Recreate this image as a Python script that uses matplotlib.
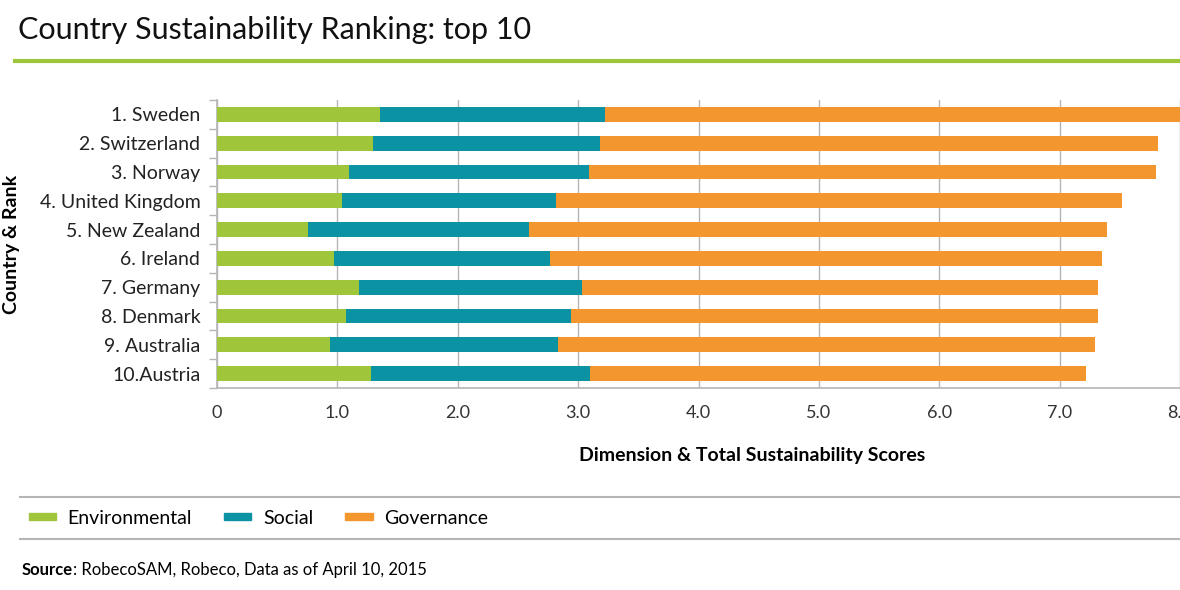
import matplotlib
matplotlib.use('Agg')
import matplotlib.pyplot as plt
import numpy as np
from matplotlib.patches import Patch
from matplotlib.lines import Line2D

# 数据
countries = ['1. Sweden', '2. Switzerland', '3. Norway', '4. United Kingdom',
             '5. New Zealand', '6. Ireland', '7. Germany', '8. Denmark',
             '9. Australia', '10.Austria']
environmental = [1.35, 1.30, 1.10, 1.04, 0.76, 0.97, 1.18, 1.07, 0.94, 1.28]
social = [1.87, 1.88, 1.99, 1.78, 1.83, 1.80, 1.85, 1.87, 1.89, 1.82]
governance = [4.80, 4.64, 4.71, 4.70, 4.80, 4.58, 4.29, 4.38, 4.46, 4.12]
xticks = [0, 1, 2, 3, 4, 5, 6, 7, 8]
xtick_labels = ['0', '1.0', '2.0', '3.0', '4.0', '5.0', '6.0', '7.0', '8.0']

GREEN = '#9fc63b'
TEAL = '#0b93a3'
ORANGE = '#f4962e'
GRAY = '#b5b5b5'

plt.rcParams['font.family'] = ['Lato', 'DejaVu Sans']

fig = plt.figure(figsize=(11.8, 5.9), dpi=100)
W, H = 1180, 590
ax = fig.add_axes([217 / W, 1 - 388 / H, 1 - 217 / W, (388 - 100) / H])

y = np.arange(len(countries))
env = np.array(environmental)
soc = np.array(social)
gov = np.array(governance)
h = 0.52
ax.barh(y, env, height=h, color=GREEN, zorder=3)
ax.barh(y, soc, left=env, height=h, color=TEAL, zorder=3)
ax.barh(y, gov, left=env + soc, height=h, color=ORANGE, zorder=3)

ax.set_xlim(0, 8)
ax.set_ylim(len(countries) - 0.5, -0.5)
ax.set_xticks(xticks)
ax.set_xticklabels(xtick_labels, fontsize=13, color='#333333')
ax.set_yticks(y)
ax.set_yticklabels(countries, fontsize=14, color='#222222')
ax.tick_params(axis='y', length=0, pad=12)
ax.tick_params(axis='x', length=0, pad=12)
# 类别边界处的小刻度
ax.set_yticks(np.arange(-0.5, len(countries), 1), minor=True)
ax.tick_params(axis='y', which='minor', length=6, color=GRAY, width=1)
ax.xaxis.grid(True, color=GRAY, linewidth=1, zorder=0)
for s in ['top', 'right']:
    ax.spines[s].set_visible(False)
for s in ['left', 'bottom']:
    ax.spines[s].set_color(GRAY)
    ax.spines[s].set_linewidth(1.2)

ax.set_xlabel('Dimension & Total Sustainability Scores', fontsize=14,
              fontweight='bold')
ax.xaxis.set_label_coords((752 - 217) / (W - 217), -(447 - 388) / 288)
fig.text(12 / W, 1 - 244 / H, 'Country & Rank', rotation=90, fontsize=14,
         fontweight='bold', ha='center', va='center')

# 标题与绿色分隔线
fig.text(18 / W, 1 - 30 / H, 'Country Sustainability Ranking: top 10',
         fontsize=22, ha='left', va='center', color='#111111')
fig.add_artist(Line2D([15 / W, 1], [1 - 61 / H] * 2, color=GREEN, linewidth=3))

# 图例区域
fig.add_artist(Line2D([20 / W, 1], [1 - 497 / H] * 2, color=GRAY, linewidth=1.5))
fig.add_artist(Line2D([20 / W, 1], [1 - 539 / H] * 2, color=GRAY, linewidth=1.5))
handles = [Patch(color=GREEN, label='Environmental'),
           Patch(color=TEAL, label='Social'),
           Patch(color=ORANGE, label='Governance')]
fig.legend(handles=handles, loc='center left', bbox_to_anchor=(15 / W, 1 - 518 / H),
           ncol=3, frameon=False, fontsize=14, handlelength=1.4, handleheight=0.25,
           columnspacing=1.65, handletextpad=0.6, borderpad=0.2)

# 加粗的 "Source" 与后面的普通文字拼接
t1 = fig.text(22 / W, 1 - 570 / H, 'Source', fontsize=12, fontweight='bold',
              ha='left', va='center')
fig.canvas.draw()
bb = t1.get_window_extent()
fig.text(bb.x1 / W, 1 - 570 / H, ': RobecoSAM, Robeco, Data as of April 10, 2015',
         fontsize=12, ha='left', va='center')

fig.savefig('out.png', dpi=100)
